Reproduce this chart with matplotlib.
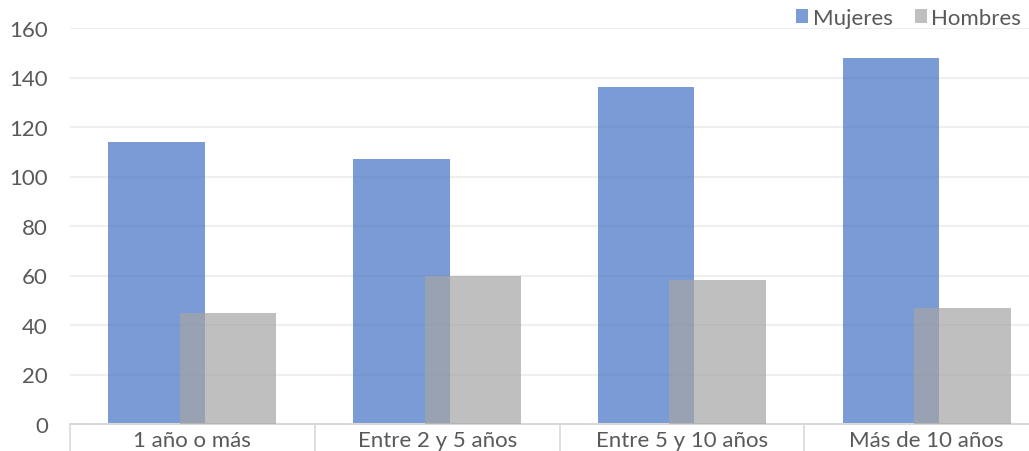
import matplotlib.pyplot as plt
import numpy as np

categorias = ["1 año o más", "Entre 2 y 5 años", "Entre 5 y 10 años", "Más de 10 años"]
mujeres = [114, 107, 136, 148]
hombres = [45, 60, 58, 47]

plt.rcParams['font.family'] = ['Lato', 'DejaVu Sans']

fig = plt.figure(figsize=(10.29, 4.52), dpi=100)
ax = fig.add_axes([70 / 1029, 1 - 425 / 452, 979 / 1029, 396 / 452])

x = np.arange(len(categorias))
ancho = 0.395
desp = 0.146

ax.bar(x - desp, mujeres, ancho, color="#4472C4", alpha=0.71, label="Mujeres", zorder=2)
ax.bar(x + desp, hombres, ancho, color="#A5A5A5", alpha=0.71, label="Hombres", zorder=3)

ax.set_xlim(-0.5, len(categorias) - 0.5)
ax.set_ylim(0, 160)
ax.set_yticks(range(0, 161, 20))
ax.yaxis.grid(True, color="#EFEFEF", linewidth=1.5, zorder=0)
ax.set_axisbelow(True)

for s in ["top", "right", "left"]:
    ax.spines[s].set_visible(False)
ax.spines["bottom"].set_color("#D9D9D9")
ax.spines["bottom"].set_linewidth(1.5)

ax.set_xticks(x)
ax.set_xticklabels(categorias)
ax.set_xticks(np.arange(-0.5, len(categorias), 1), minor=True)
ax.tick_params(axis="x", which="major", length=0, pad=4, labelsize=16, labelcolor="#595959")
ax.tick_params(axis="x", which="minor", length=22, width=1.2, color="#D9D9D9")
ax.tick_params(axis="y", length=0, pad=16, labelsize=16, labelcolor="#595959")

fig.legend(loc="upper right", bbox_to_anchor=(1.012, 1.025), ncol=2, frameon=False,
           fontsize=16, labelcolor="#595959", handlelength=0.55, handleheight=0.55,
           handletextpad=0.2, columnspacing=1.0)

fig.savefig("out.png", dpi=100)
